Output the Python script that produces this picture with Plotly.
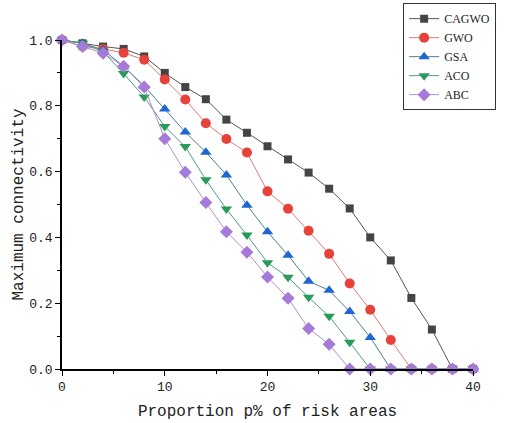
import plotly.graph_objects as go

x_vals = [0, 2, 4, 6, 8, 10, 12, 14, 16, 18, 20, 22, 24, 26, 28, 30, 32, 34, 36, 38, 40]

cagwo = [1.0, 0.99, 0.98, 0.973, 0.95, 0.90, 0.857, 0.82, 0.758, 0.718, 0.677, 0.637, 0.597, 0.548, 0.488, 0.40, 0.33, 0.216, 0.12, 0.0, 0.0]
gwo   = [1.0, 0.98, 0.973, 0.961, 0.94, 0.88, 0.819, 0.747, 0.699, 0.658, 0.54, 0.487, 0.42, 0.35, 0.26, 0.18, 0.088, 0.0, 0.0, 0.0, 0.0]
gsa   = [1.0, 0.99, 0.97, 0.92, 0.86, 0.79, 0.72, 0.659, 0.59, 0.498, 0.417, 0.346, 0.267, 0.239, 0.175, 0.096, 0.0, 0.0, 0.0, 0.0, 0.0]
aco   = [1.0, 0.99, 0.964, 0.898, 0.827, 0.737, 0.676, 0.575, 0.486, 0.407, 0.323, 0.279, 0.218, 0.16, 0.081, 0.0, 0.0, 0.0, 0.0, 0.0, 0.0]
abc   = [1.0, 0.98, 0.96, 0.92, 0.857, 0.70, 0.598, 0.506, 0.417, 0.355, 0.28, 0.215, 0.123, 0.075, 0.0, 0.0, 0.0, 0.0, 0.0, 0.0, 0.0]

series = [
    ("CAGWO", cagwo, "#444444", "#555555", "square", 8),
    ("GWO", gwo, "#e8413a", "#e07a74", "circle", 10),
    ("GSA", gsa, "#1f66d1", "#4b7f9a", "triangle-up", 10),
    ("ACO", aco, "#2a9a5a", "#4f9a8a", "triangle-down", 10),
    ("ABC", abc, "#a67ad8", "#b090cc", "diamond", 10),
]

fig = go.Figure()
for name, ys, mcol, lcol, sym, sz in series:
    fig.add_trace(go.Scatter(
        x=x_vals, y=ys, name=name, mode="lines+markers",
        line=dict(color=lcol, width=1),
        marker=dict(symbol=sym, size=sz, color=mcol, line=dict(width=0)),
        cliponaxis=False,
    ))

axis_font = dict(family="Liberation Mono", size=13, color="#222")
fig.update_layout(
    width=508, height=423,
    margin=dict(l=62, r=35, t=40, b=54, autoexpand=False),
    paper_bgcolor="white", plot_bgcolor="white",
    showlegend=True,
    legend=dict(
        x=0.83, y=1.112, xanchor="left", yanchor="top",
        bordercolor="#333", borderwidth=1, bgcolor="white",
        font=dict(family="Liberation Serif", size=12, color="#222"),
        tracegroupgap=0, itemsizing="trace",
        entrywidth=40, entrywidthmode="pixels",
    ),
    xaxis=dict(
        range=[0, 40], tickvals=[0, 10, 20, 30, 40],
        showgrid=False, zeroline=False,
        showline=True, linecolor="black", linewidth=1.5,
        ticks="outside", ticklen=5, tickwidth=1, tickcolor="black",
        minor=dict(tickvals=[5, 15, 25, 35], ticks="outside", ticklen=3, tickcolor="black"),
        tickfont=axis_font,
        title=dict(text="Proportion p% of risk areas", font=dict(family="Liberation Mono", size=16, color="#222"), standoff=10),
    ),
    yaxis=dict(
        range=[0, 1], tickvals=[0, 0.2, 0.4, 0.6, 0.8, 1.0],
        ticktext=["0.0", "0.2", "0.4", "0.6", "0.8", "1.0"],
        showgrid=False, zeroline=False,
        showline=True, linecolor="black", linewidth=1.5,
        ticks="outside", ticklen=5, tickwidth=1, tickcolor="black",
        minor=dict(tickvals=[0.1, 0.3, 0.5, 0.7, 0.9], ticks="outside", ticklen=3, tickcolor="black"),
        tickfont=axis_font,
        title=dict(text="Maximum connectivity", font=dict(family="Liberation Mono", size=16, color="#222"), standoff=2),
    ),
)

fig.write_html("out.html")
